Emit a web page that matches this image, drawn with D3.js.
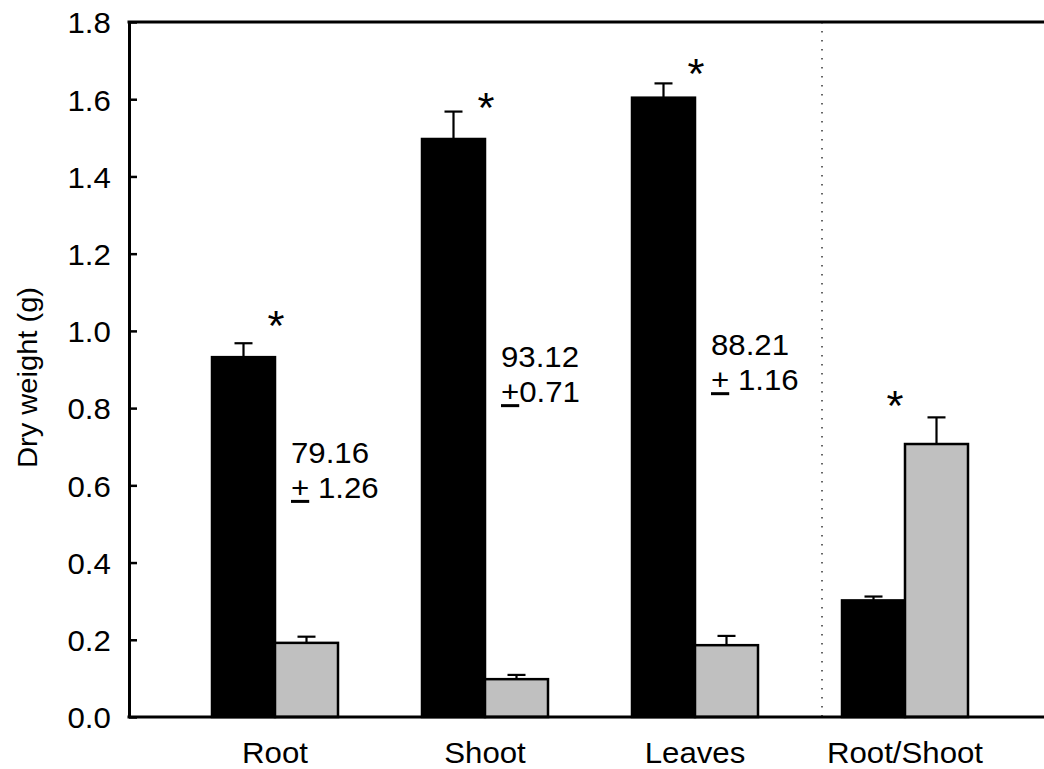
<!DOCTYPE html>
<html lang="en">
<head>
<meta charset="UTF-8">
<title>Dry weight</title>
<script src="https://cdn.jsdelivr.net/npm/d3@7"></script>
<style>
  body { margin: 0; background: #fff; }
  text { font-family: "Liberation Sans", Arial, sans-serif; fill: #000; }
</style>
</head>
<body>
<script>
// data
var categories = ["Root", "Shoot", "Leaves", "Root/Shoot"];
var series = ["black", "grey"];
var blackValues = [0.932, 1.497, 1.604, 0.302];
var blackErrors = [0.036, 0.071, 0.037, 0.010];
var greyValues = [0.192, 0.098, 0.186, 0.707];
var greyErrors = [0.016, 0.011, 0.024, 0.069];
var starValues = [1.028, 1.593, 1.681, 0.821];
var noteTop = ["79.16", "93.12", "88.21"];
var noteBottom = [" 1.26", "0.71", " 1.16"];
var noteValues = [0.658, 0.906, 0.937];
var yTicks = [0, 0.2, 0.4, 0.6, 0.8, 1.0, 1.2, 1.4, 1.6, 1.8];

var W = 1044, H = 769;
var margin = { top: 22, left: 129, bottom: 52 };
var sx = 1.04; // glyphs in the original are a little wide
var fs = "30px";

var svg = d3.select("body").append("svg")
  .attr("width", W).attr("height", H);

var y = d3.scaleLinear().domain([0, 1.8]).range([H - margin.bottom, margin.top]);
var x0 = d3.scaleBand().domain(categories).range([170, 1010])
  .paddingInner(0.4).paddingOuter(0.2);
var x1 = d3.scaleBand().domain(series).range([0, x0.bandwidth()]);

var rows = categories.map(function (c, i) {
  return { cat: c, i: i,
    bars: [ { s: "black", v: blackValues[i], e: blackErrors[i] },
            { s: "grey", v: greyValues[i], e: greyErrors[i] } ] };
});

// dotted separator before Root/Shoot
var sepX = x0("Root/Shoot") - 20;
svg.append("line")
  .attr("x1", sepX).attr("x2", sepX)
  .attr("y1", y(1.8)).attr("y2", y(0))
  .attr("stroke", "#333").attr("stroke-width", 1.5)
  .attr("stroke-dasharray", "1.5,7.5");

var g = svg.selectAll(".grp").data(rows).enter().append("g")
  .attr("class", "grp")
  .attr("transform", function (d) { return "translate(" + x0(d.cat) + ",0)"; });

// error bars (upward only)
var eb = g.selectAll(".err").data(function (d) { return d.bars; }).enter().append("g")
  .attr("class", "err");
eb.append("line")
  .attr("x1", function (d) { return x1(d.s) + x1.bandwidth() / 2; })
  .attr("x2", function (d) { return x1(d.s) + x1.bandwidth() / 2; })
  .attr("y1", function (d) { return y(d.v); })
  .attr("y2", function (d) { return y(d.v + d.e); })
  .attr("stroke", "#000").attr("stroke-width", 2.2);
eb.append("line")
  .attr("x1", function (d) { return x1(d.s) + x1.bandwidth() / 2 - 9; })
  .attr("x2", function (d) { return x1(d.s) + x1.bandwidth() / 2 + 9; })
  .attr("y1", function (d) { return y(d.v + d.e); })
  .attr("y2", function (d) { return y(d.v + d.e); })
  .attr("stroke", "#000").attr("stroke-width", 2.2);

g.selectAll("rect").data(function (d) { return d.bars; }).enter().append("rect")
  .attr("x", function (d) { return x1(d.s); })
  .attr("y", function (d) { return y(d.v); })
  .attr("width", x1.bandwidth())
  .attr("height", function (d) { return y(0) - y(d.v); })
  .attr("fill", function (d) { return d.s === "black" ? "#000" : "#c0c0c0"; })
  .attr("stroke", "#000").attr("stroke-width", 2.5);

// asterisks
g.append("text")
  .attr("transform", function (d) {
    var dx = d.cat === "Root/Shoot" ? -10 : 1;
    return "translate(" + (x1("grey") + dx) + "," + (y(starValues[d.i]) + 20) + ") scale(" + sx + ",1)";
  })
  .attr("text-anchor", "middle")
  .style("font-size", "42px")
  .text("*");

// percentage notes
var notes = g.filter(function (d) { return d.i < noteTop.length; });
notes.append("text")
  .attr("transform", function (d) {
    return "translate(" + (x1("grey") + 16) + "," + y(noteValues[d.i]) + ") scale(" + sx + ",1)";
  })
  .style("font-size", fs)
  .text(function (d) { return noteTop[d.i]; });
var nb = notes.append("text")
  .attr("transform", function (d) {
    return "translate(" + (x1("grey") + 16) + "," + (y(noteValues[d.i]) + 35) + ") scale(" + sx + ",1)";
  })
  .style("font-size", fs);
nb.append("tspan").style("text-decoration", "underline").text("+");
nb.append("tspan").text(function (d) { return noteBottom[d.i]; });

// axes and frame
var yAxis = svg.append("g")
  .attr("transform", "translate(" + margin.left + ",0)")
  .call(d3.axisLeft(y).tickValues(yTicks).tickFormat(d3.format(".1f"))
    .tickSizeInner(-8).tickSizeOuter(0).tickPadding(0));
yAxis.select(".domain").attr("stroke-width", 3);
yAxis.selectAll(".tick line").attr("stroke-width", 2.5);
yAxis.selectAll(".tick text")
  .attr("x", -17.5).attr("dy", "0.36em")
  .attr("transform", "scale(" + sx + ",1)")
  .style("font-size", fs).attr("fill", "#000");

svg.append("line")
  .attr("x1", margin.left - 1.5).attr("x2", W)
  .attr("y1", y(0)).attr("y2", y(0))
  .attr("stroke", "#000").attr("stroke-width", 3);
svg.append("line")
  .attr("x1", margin.left - 1.5).attr("x2", W)
  .attr("y1", y(1.8)).attr("y2", y(1.8))
  .attr("stroke", "#000").attr("stroke-width", 3);

// category labels
svg.selectAll(".cat").data(categories).enter().append("text")
  .attr("class", "cat")
  .attr("transform", function (d) {
    return "translate(" + (x0(d) + x0.bandwidth() / 2) + "," + (H - 6) + ") scale(" + sx + ",1)";
  })
  .attr("text-anchor", "middle")
  .style("font-size", fs)
  .text(function (d) { return d; });

svg.append("text")
  .attr("transform", "translate(37," + ((y(0) + y(1.8)) / 2 + 8) + ") rotate(-90) scale(" + sx + ",1)")
  .attr("text-anchor", "middle")
  .style("font-size", "28px")
  .text("Dry weight (g)");
</script>
</body>
</html>
